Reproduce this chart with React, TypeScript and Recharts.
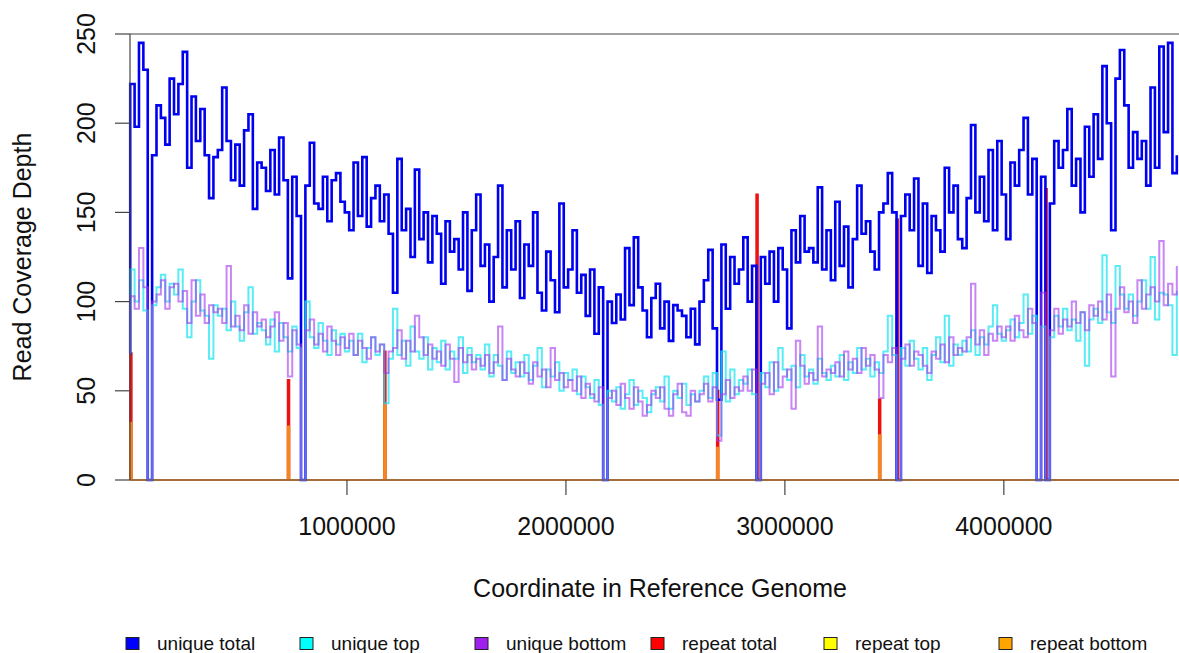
import React from 'react';
import { LineChart, Line, XAxis, YAxis, ReferenceLine } from 'recharts';

// ---- data ----
const GENOME_START = 9000;
const GENOME_END = 4800000;
const BIN_START = 10000;
const BIN_SIZE = 20000;
const LEFT_EDGE_DEPTH = 71;

const UNIQUE_TOTAL = [
  222, 198, 245, 230, 0, 182, 210, 203, 188, 225,
  205, 222, 240, 175, 215, 190, 208, 182, 158, 181,
  185, 220, 190, 168, 188, 165, 196, 205, 152, 178,
  175, 162, 185, 160, 192, 168, 113, 170, 148, 0,
  165, 189, 155, 152, 170, 145, 168, 172, 156, 150,
  140, 178, 148, 181, 142, 158, 165, 145, 160, 138,
  105, 180, 140, 152, 125, 174, 135, 150, 122, 148,
  138, 110, 145, 128, 135, 118, 150, 106, 140, 160,
  120, 132, 100, 125, 165, 108, 140, 118, 145, 102,
  132, 120, 150, 105, 95, 128, 112, 94, 155, 108,
  118, 140, 105, 115, 92, 118, 82, 108, 0, 100,
  88, 104, 90, 130, 98, 136, 108, 95, 80, 102,
  110, 85, 100, 78, 98, 95, 92, 80, 96, 76,
  100, 112, 129, 85, 45, 132, 96, 125, 110, 118,
  136, 100, 120, 0, 125, 110, 128, 100, 130, 118,
  85, 140, 122, 148, 128, 130, 122, 164, 118, 140,
  112, 156, 120, 142, 108, 135, 165, 138, 145, 128,
  118, 150, 155, 172, 150, 0, 148, 160, 140, 169,
  120, 155, 116, 148, 140, 128, 175, 150, 165, 135,
  130, 158, 199, 150, 170, 145, 185, 140, 190, 160,
  135, 178, 165, 185, 203, 160, 180, 0, 170, 0,
  155, 190, 175, 185, 208, 165, 180, 150, 198, 170,
  205, 180, 232, 200, 140, 225, 241, 210, 175, 195,
  180, 190, 165, 220, 175, 243, 195, 245, 172, 182,
];

const UNIQUE_TOP = [
  118, 100, 112, 95, 0, 98, 108, 115, 100, 110,
  104, 118, 96, 80, 100, 112, 95, 92, 68, 98,
  92, 96, 84, 100, 86, 78, 94, 108, 82, 88,
  84, 76, 90, 72, 88, 80, 72, 86, 74, 0,
  100, 80, 74, 88, 78, 70, 84, 76, 82, 72,
  78, 70, 82, 66, 74, 80, 70, 76, 43, 68,
  96, 70, 78, 64, 86, 72, 68, 80, 62, 74,
  66, 78, 62, 72, 68, 80, 60, 74, 66, 70,
  62, 76, 58, 70, 64, 56, 72, 60, 66, 58,
  70, 56, 64, 74, 52, 62, 58, 66, 50, 60,
  56, 62, 48, 58, 52, 46, 56, 42, 0, 50,
  44, 52, 40, 48, 56, 42, 50, 46, 38, 48,
  52, 44, 58, 40, 50, 46, 54, 42, 48, 44,
  50, 58, 46, 60, 25, 72, 44, 62, 48, 56,
  54, 62, 48, 0, 60, 52, 66, 50, 74, 62,
  56, 64, 52, 70, 58, 62, 54, 68, 60, 56,
  64, 58, 70, 56, 66, 60, 74, 62, 68, 58,
  66, 60, 72, 92, 70, 0, 74, 64, 78, 68,
  62, 74, 56, 70, 80, 66, 92, 64, 76, 70,
  78, 72, 84, 70, 80, 76, 86, 98, 82, 78,
  84, 90, 80, 88, 104, 82, 92, 0, 86, 0,
  80, 92, 86, 96, 84, 90, 78, 94, 64, 90,
  96, 88, 126, 94, 88, 120, 104, 96, 104, 92,
  100, 112, 96, 125, 90, 105, 104, 98, 70, 106,
];

const UNIQUE_BOTTOM = [
  103, 96, 130, 108, 0, 100, 104, 112, 96, 108,
  110, 100, 106, 88, 112, 92, 104, 88, 98, 94,
  96, 88, 120, 86, 92, 84, 98, 82, 94, 86,
  90, 80, 86, 94, 78, 88, 58, 84, 76, 0,
  84, 90, 76, 82, 72, 86, 78, 70, 80, 74,
  82, 70, 78, 74, 68, 80, 72, 76, 60, 72,
  74, 84, 68, 78, 72, 92, 80, 70, 76, 68,
  72, 64, 76, 68, 55, 74, 66, 70, 62, 68,
  64, 70, 60, 66, 86, 56, 68, 62, 58, 66,
  60, 54, 66, 58, 62, 52, 74, 56, 60, 52,
  56, 50, 58, 46, 54, 48, 44, 52, 0, 46,
  50, 42, 54, 46, 40, 52, 44, 36, 42, 50,
  46, 52, 40, 36, 48, 54, 38, 36, 50, 44,
  48, 54, 44, 52, 22, 48, 56, 46, 52, 50,
  58, 50, 62, 0, 54, 60, 48, 66, 52, 58,
  62, 40, 78, 64, 54, 60, 56, 86, 58, 62,
  60, 66, 58, 72, 62, 68, 60, 74, 64, 70,
  62, 46, 70, 66, 74, 0, 68, 76, 64, 72,
  70, 64, 60, 72, 68, 76, 66, 80, 70, 74,
  72, 80, 110, 76, 84, 70, 82, 78, 86, 80,
  86, 78, 92, 84, 80, 96, 88, 0, 105, 0,
  84, 96, 82, 90, 86, 100, 88, 94, 84, 98,
  92, 100, 90, 104, 58, 96, 108, 94, 100, 88,
  112, 96, 104, 108, 100, 134, 98, 110, 104, 120,
];

const REPEAT_TOTAL_POS = [10000, 730000, 1170000, 2690000, 2870000, 3430000, 3510000, 4190000];
const REPEAT_TOTAL_VAL = [71, 56, 72, 50, 160, 45, 146, 163];
const REPEAT_TOP_POS: number[] = [];
const REPEAT_TOP_VAL: number[] = [];
const REPEAT_BOTTOM_POS = [10000, 730000, 1170000, 2690000, 3430000];
const REPEAT_BOTTOM_VAL = [32, 30, 42, 18, 25];
const SPIKE_WIDTH = 6000;

const X_TICKS = [1000000, 2000000, 3000000, 4000000];
const Y_TICKS = [0, 50, 100, 150, 200, 250];

const SERIES_NAMES = ['unique total', 'unique top', 'unique bottom', 'repeat total', 'repeat top', 'repeat bottom'];
const LEGEND_FILLS = ['#0000ff', '#00ffff', '#a020f0', '#ff0000', '#ffff00', '#ffa500'];

const X_TITLE = 'Coordinate in Reference Genome';
const Y_TITLE = 'Read Coverage Depth';

// ---- tables built from the arrays ----
const uniqueRows = [
  { pos: GENOME_START, ut: LEFT_EDGE_DEPTH, utop: LEFT_EDGE_DEPTH, ubot: LEFT_EDGE_DEPTH },
  ...UNIQUE_TOTAL.map((v, i) => ({
    pos: BIN_START + BIN_SIZE * i,
    ut: v,
    utop: UNIQUE_TOP[i],
    ubot: UNIQUE_BOTTOM[i],
  })),
];

function spikeSeries(pos: number[], val: number[]) {
  const pts: { pos: number; v: number }[] = [{ pos: GENOME_START, v: 0 }];
  pos.forEach((p, k) => {
    pts.push({ pos: p, v: val[k] });
    pts.push({ pos: p + SPIKE_WIDTH, v: 0 });
  });
  pts.push({ pos: GENOME_END, v: 0 });
  return pts;
}

const repeatTotalRows = spikeSeries(REPEAT_TOTAL_POS, REPEAT_TOTAL_VAL);
const repeatTopRows = spikeSeries(REPEAT_TOP_POS, REPEAT_TOP_VAL);
const repeatBottomRows = spikeSeries(REPEAT_BOTTOM_POS, REPEAT_BOTTOM_VAL);

const FONT = "'Liberation Sans', Arial, Helvetica, sans-serif";

const YTick = (props: any) => {
  const { y, payload } = props;
  return (
    <text
      x={95}
      y={y}
      transform={`rotate(-90 95 ${y})`}
      textAnchor="middle"
      fontSize={25}
      fontFamily={FONT}
      fill="#111"
    >
      {payload.value}
    </text>
  );
};

const XTick = (props: any) => {
  const { x, payload } = props;
  return (
    <text x={x} y={535} textAnchor="middle" fontSize={25} fontFamily={FONT} fill="#111">
      {payload.value}
    </text>
  );
};

const LEGEND_TEXT_X = [157, 331, 506, 682, 855, 1030];

export default function App() {
  return (
    <div style={{ position: 'absolute', left: 0, top: 0, width: 1179, height: 653, background: '#fff', overflow: 'hidden' }}>
      <LineChart
        width={1179}
        height={653}
        data={uniqueRows}
        margin={{ top: 34, right: 0, bottom: 0, left: 0 }}
      >
        <XAxis
          dataKey="pos"
          type="number"
          domain={[GENOME_START, GENOME_END]}
          ticks={X_TICKS}
          interval={0}
          height={173}
          tickSize={15}
          axisLine={{ stroke: '#555', strokeWidth: 1 }}
          tickLine={{ stroke: '#444', strokeWidth: 1.2 }}
          tick={<XTick />}
        />
        <YAxis
          type="number"
          domain={[0, 250]}
          ticks={Y_TICKS}
          interval={0}
          width={130}
          tickSize={15}
          axisLine={{ stroke: '#444', strokeWidth: 1.2 }}
          tickLine={{ stroke: '#444', strokeWidth: 1.2 }}
          tick={<YTick />}
        />
        <ReferenceLine y={250} stroke="#444" strokeWidth={1.2} />
        <Line data={repeatTotalRows} dataKey="v" type="stepAfter" stroke="#ee1111" strokeWidth={2.2} dot={false} activeDot={false} isAnimationActive={false} />
        <Line data={repeatTopRows} dataKey="v" type="stepAfter" stroke="#ffff00" strokeWidth={1.5} dot={false} activeDot={false} isAnimationActive={false} />
        <Line data={repeatBottomRows} dataKey="v" type="stepAfter" stroke="#f5861f" strokeWidth={2.2} dot={false} activeDot={false} isAnimationActive={false} />
        <Line dataKey="ut" type="stepAfter" stroke="#0000f0" strokeWidth={2.6} dot={false} activeDot={false} isAnimationActive={false} />
        <Line dataKey="utop" type="stepAfter" stroke="#22e6f0" strokeOpacity={0.75} strokeWidth={2} dot={false} activeDot={false} isAnimationActive={false} />
        <Line dataKey="ubot" type="stepAfter" stroke="#a436ee" strokeOpacity={0.6} strokeWidth={2} dot={false} activeDot={false} isAnimationActive={false} />
      </LineChart>
      <svg width={1179} height={653} style={{ position: 'absolute', left: 0, top: 0, pointerEvents: 'none' }}>
        <text x={660} y={597} textAnchor="middle" fontSize={25} fontFamily={FONT} fill="#111">
          {X_TITLE}
        </text>
        <text x={31} y={257} transform="rotate(-90 31 257)" textAnchor="middle" fontSize={25} fontFamily={FONT} fill="#111">
          {Y_TITLE}
        </text>
        {SERIES_NAMES.map((name, k) => (
          <g key={name}>
            <rect x={LEGEND_TEXT_X[k] - 31} y={637.5} width={13} height={12} fill={LEGEND_FILLS[k]} stroke="#222" strokeWidth={1} />
            <text x={LEGEND_TEXT_X[k]} y={650} fontSize={19} fontFamily={FONT} fill="#111">
              {name}
            </text>
          </g>
        ))}
      </svg>
    </div>
  );
}
